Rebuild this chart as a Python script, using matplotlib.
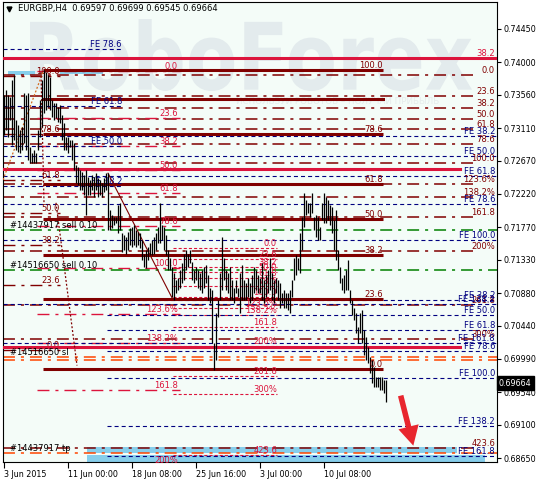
import matplotlib
matplotlib.use('Agg')
import matplotlib.pyplot as plt
from matplotlib.patches import Rectangle, PathPatch
from matplotlib.textpath import TextPath
from matplotlib.font_manager import FontProperties
from matplotlib.transforms import Affine2D, IdentityTransform, blended_transform_factory

plt.rcParams['lines.scale_dashes'] = False
plt.rcParams['font.family'] = 'DejaVu Sans'

# ---------------- data (EURGBP H4) ----------------
highs = [0.7356, 0.7362, 0.7356, 0.7353, 0.7376, 0.7383, 0.7322, 0.7315, 0.7308, 0.7312,
         0.7358, 0.7356, 0.7358, 0.7285, 0.7277, 0.7281, 0.7277, 0.7308, 0.7349, 0.7376,
         0.7390, 0.7387, 0.7383, 0.7380, 0.7349, 0.7345, 0.7345, 0.7340, 0.7342, 0.7329,
         0.7318, 0.7299, 0.7299, 0.7295, 0.7295, 0.7291, 0.7261, 0.7258, 0.7254, 0.7252,
         0.7248, 0.7254, 0.7245, 0.7241, 0.7248, 0.7245, 0.7250, 0.7244, 0.7241, 0.7237,
         0.7244, 0.7250, 0.7250, 0.7200, 0.7194, 0.7191, 0.7191, 0.7207, 0.7210, 0.7169,
         0.7166, 0.7164, 0.7171, 0.7176, 0.7177, 0.7180, 0.7173, 0.7171, 0.7169, 0.7160,
         0.7141, 0.7146, 0.7150, 0.7156, 0.7160, 0.7164, 0.7169, 0.7177, 0.7210, 0.7180,
         0.7177, 0.7166, 0.7146, 0.7136, 0.7123, 0.7115, 0.7106, 0.7109, 0.7119, 0.7128,
         0.7141, 0.7146, 0.7141, 0.7146, 0.7130, 0.7119, 0.7123, 0.7119, 0.7115, 0.7119,
         0.7123, 0.7126, 0.7112, 0.7095, 0.7092, 0.7020, 0.7061, 0.7079, 0.7115,
         0.7164, 0.7136, 0.7119, 0.7115, 0.7123, 0.7106, 0.7095, 0.7106, 0.7095, 0.7115,
         0.7126, 0.7106, 0.7102, 0.7109, 0.7102, 0.7112, 0.7123, 0.7119, 0.7112, 0.7109,
         0.7128, 0.7106, 0.7112, 0.7119, 0.7136, 0.7115, 0.7106, 0.7109, 0.7106, 0.7102,
         0.7088, 0.7092, 0.7088, 0.7088, 0.7092, 0.7106, 0.7136, 0.7139, 0.7136, 0.7169,
         0.7191, 0.7223, 0.7214, 0.7210, 0.7210, 0.7223, 0.7191, 0.7194, 0.7191, 0.7177,
         0.7210, 0.7223, 0.7218, 0.7214, 0.7207, 0.7204, 0.7187, 0.7200, 0.7146, 0.7123,
         0.7109, 0.7112, 0.7119, 0.7133, 0.7092, 0.7079, 0.7068, 0.7061, 0.7042, 0.7061,
         0.7065, 0.7038, 0.7029, 0.7015, 0.7002, 0.6998, 0.6988, 0.6975, 0.6975, 0.6975,
         0.6975, 0.6970, 0.6970]
lows = [0.7302, 0.7308, 0.7299, 0.7322, 0.7288, 0.7295, 0.7281, 0.7279, 0.7277, 0.7281,
        0.7291, 0.7281, 0.7268, 0.7264, 0.7264, 0.7264, 0.7264, 0.7281, 0.7299, 0.7312,
        0.7331, 0.7335, 0.7340, 0.7335, 0.7326, 0.7322, 0.7325, 0.7319, 0.7318, 0.7295,
        0.7281, 0.7281, 0.7277, 0.7285, 0.7268, 0.7254, 0.7237, 0.7234, 0.7227, 0.7227,
        0.7221, 0.7194, 0.7221, 0.7221, 0.7227, 0.7218, 0.7227, 0.7218, 0.7221, 0.7218,
        0.7225, 0.7227, 0.7173, 0.7173, 0.7176, 0.7180, 0.7183, 0.7169, 0.7173, 0.7143,
        0.7146, 0.7141, 0.7146, 0.7153, 0.7150, 0.7153, 0.7150, 0.7153, 0.7149, 0.7133,
        0.7123, 0.7122, 0.7133, 0.7139, 0.7139, 0.7141, 0.7146, 0.7156, 0.7156, 0.7160,
        0.7146, 0.7139, 0.7119, 0.7119, 0.7082, 0.7079, 0.7088, 0.7092, 0.7095, 0.7102,
        0.7106, 0.7119, 0.7123, 0.7128, 0.7106, 0.7102, 0.7106, 0.7095, 0.7092, 0.7088,
        0.7095, 0.7102, 0.7079, 0.7075, 0.7020, 0.6984, 0.6998, 0.7055, 0.7079,
        0.7092, 0.7106, 0.7092, 0.7088, 0.7079, 0.7079, 0.7075, 0.7088, 0.7082, 0.7061,
        0.7079, 0.7079, 0.7079, 0.7082, 0.7075, 0.7079, 0.7088, 0.7092, 0.7088, 0.7088,
        0.7079, 0.7075, 0.7082, 0.7088, 0.7092, 0.7079, 0.7075, 0.7088, 0.7079, 0.7068,
        0.7075, 0.7068, 0.7068, 0.7065, 0.7061, 0.7082, 0.7106, 0.7112, 0.7119, 0.7115,
        0.7146, 0.7177, 0.7194, 0.7196, 0.7191, 0.7196, 0.7173, 0.7164, 0.7160, 0.7160,
        0.7187, 0.7183, 0.7183, 0.7187, 0.7180, 0.7169, 0.7146, 0.7133, 0.7119, 0.7102,
        0.7092, 0.7088, 0.7092, 0.7092, 0.7075, 0.7058, 0.7052, 0.7034, 0.7020, 0.7034,
        0.7020, 0.7004, 0.6998, 0.6993, 0.6980, 0.6966, 0.6961, 0.6961, 0.6961, 0.6957,
        0.6957, 0.6953, 0.6941]

symbol = 'EURGBP,H4'
last_ohlc = ['0.69597', '0.69699', '0.69545', '0.69664']
last_close = 0.69664

date_labels = ['3 Jun 2015', '11 Jun 00:00', '18 Jun 08:00', '25 Jun 16:00', '3 Jul 00:00', '10 Jul 08:00']
date_bars = [0, 32, 64, 96, 128, 160]
price_ticks = [0.74450, 0.74000, 0.73560, 0.73110, 0.72670, 0.72220, 0.71770,
               0.71330, 0.70880, 0.70440, 0.69990, 0.69540, 0.69100, 0.68650]

retr_levels = [0, 23.6, 38.2, 50, 61.8, 78.6, 100]
ext_levels = [0, 23.6, 38.2, 50, 61.8, 78.6, 100, 123.6, 138.2, 161.8, 200, 261.8, 300, 423.6]
fe_levels = [38.2, 50, 61.8, 78.6, 100, 138.2, 161.8]
fe_top_levels = [38.2, 50, 61.8, 78.6]

# fibo objects: (price at 0 %, price at 100 %)
fibo_main = (0.6985, 0.7390)
fibo_left = (0.7011, 0.7382)
fibo_ext_right = (0.7383, 0.7264)
fibo_ext_mid = (0.7149, 0.7083)
fibo_ext_left = (0.7388, 0.7122)
fe_top = (0.7058, 0.7516)
fe_upper = (0.7386, 0.7160)
fe_lower = (0.7143, 0.6973)

red_levels = [0.7406, 0.7256, 0.7015]
resist_level = 0.7350
order_prices = [0.7173, 0.7119]
order_names = ['#14437917 sell 0.10', '#14516650 sell 0.10']
sl_prices = [0.7002, 0.6998]
tp_price = 0.6872

MAROON = '#800000'
CRIMSON = '#DC143C'
NAVY = '#000080'
GREEN = '#008000'
ORANGE = '#FF4500'
SKY = '#87CEEB'
BG = '#F4FCF8'
FS = 6.0

DASHDOT = (0, (8.6, 4.3, 2.2, 4.3))
SHORT = (0, (2.9, 2.2))
TINY = (0, (2.2, 1.5))


def lvl_price(anchor, lvl):
    p0, p100 = anchor
    return p0 + (p100 - p0) * lvl / 100.0


def ext_text(lvl):
    special = {123.6: '123.6%', 138.2: '138.2%', 200: '200%', 300: '300%'}
    return special.get(lvl, '%.1f' % lvl)


def draw_levels(ax, anchor, levels, x0, x1, color, lw, ls, lab_x, lab_color, fmt, zorder=2):
    for lvl in levels:
        p = lvl_price(anchor, lvl)
        ax.plot([x0, x1], [p, p], color=color, lw=lw, linestyle=ls, zorder=zorder,
                solid_capstyle='butt')
        ax.text(lab_x, p, fmt(lvl), color=lab_color, fontsize=FS, ha='right', va='bottom',
                zorder=zorder + 1)


fig = plt.figure(figsize=(5.39, 4.79), dpi=100)
fig.patch.set_facecolor('white')
ax = fig.add_axes([3 / 539, 17 / 479, 494 / 539, 460 / 479])
ax.set_facecolor(BG)

# watermark
fp = FontProperties(family='DejaVu Sans', weight='bold')
tp = TextPath((0, 0), 'RoboForex', size=1, prop=fp)
ext = tp.get_extents()
tr = Affine2D().translate(-ext.x0, -ext.y0).scale(442 / ext.width, 72 / ext.height).translate(30, 388)
ax.add_artist(PathPatch(tr.transform_path(tp), fc='#E3EBED', ec='none',
                        transform=IdentityTransform(), zorder=0.5))
ax.text(236 / 539, 1 - 101 / 479, 'ИСПОЛЬЗУЙ РОБОТОВ – ПОЛУЧАЙ ПРИБЫЛЬ', color='#E6ECEC',
        fontsize=6.3, va='center', ha='left', zorder=0.6, transform=fig.transFigure)

# price bars
xs = list(range(len(highs)))
ax.vlines(xs, lows, highs, color='black', lw=0.9, zorder=4)

# blue target boxes
boxes = [(41.5, 226.5, 0.6872, 0.6880), (41.5, 240.5, 0.6850, 0.6869),
         (2.0, 15.5, 0.7383, 0.7388), (28.0, 49.5, 0.7384, 0.7387)]
for bx0, bx1, by0, by1 in boxes:
    ax.add_patch(Rectangle((bx0, by0), bx1 - bx0, by1 - by0, fc=SKY, ec='none', zorder=1.5))

# fibonacci retracements
draw_levels(ax, fibo_main, retr_levels, 19.5, 189.5, MAROON, 2.2, '-', 189.5, MAROON,
            lambda l: '%.1f' % l, zorder=3)
ax.plot([19.5, 189.5], [resist_level, resist_level], color=MAROON, lw=2.2, zorder=3)
draw_levels(ax, fibo_left, retr_levels, -0.5, 28, MAROON, 1.0, DASHDOT, 28, MAROON,
            lambda l: '%.1f' % l)
draw_levels(ax, fibo_ext_right, ext_levels, -0.5, 236, MAROON, 1.1, DASHDOT, 245.5, MAROON, ext_text)
draw_levels(ax, fibo_ext_mid, ext_levels, 84.5, 136.5, CRIMSON, 0.8, TINY, 136.5, CRIMSON, ext_text)
draw_levels(ax, fibo_ext_left, ext_levels[:11], 16.5, 88, CRIMSON, 1.0, DASHDOT, 87, CRIMSON, ext_text)

# fibonacci expansions
fe_fmt = lambda l: 'FE %.1f' % l
draw_levels(ax, fe_top, fe_top_levels, -0.5, 59, NAVY, 0.8, SHORT, 59, NAVY, fe_fmt)
draw_levels(ax, fe_upper, fe_levels, -0.5, 246.5, NAVY, 0.8, SHORT, 245.5, NAVY, fe_fmt)
draw_levels(ax, fe_lower, fe_levels, 51.5, 246.5, NAVY, 0.8, SHORT, 245.5, NAVY, fe_fmt)

# solid red levels
for p, x1 in zip(red_levels, [246.5, 228, 228]):
    ax.plot([-0.5, x1], [p, p], color=CRIMSON, lw=2.2, zorder=3)
ax.text(245.5, red_levels[0], '38.2', color=CRIMSON, fontsize=FS, ha='right', va='bottom', zorder=5)

# orders
for p, name in zip(order_prices, order_names):
    ax.plot([-0.5, 246.5], [p, p], color=GREEN, lw=1.1, linestyle=DASHDOT, zorder=2)
    ax.text(3, p, name, color='black', fontsize=FS, ha='left', va='bottom', zorder=5)
for p in sl_prices:
    ax.plot([-0.5, 246.5], [p, p], color=ORANGE, lw=1.1, linestyle=DASHDOT, zorder=2)
ax.text(3, sl_prices[0], '#14516650 sl', color='black', fontsize=FS, ha='left', va='bottom', zorder=5)
ax.plot([-0.5, 246.5], [tp_price, tp_price], color=ORANGE, lw=1.1, linestyle=DASHDOT, zorder=2)
ax.text(3, tp_price, '#14437917 tp', color='black', fontsize=FS, ha='left', va='bottom', zorder=5)

# trend lines
ax.plot([52, 84.5], [0.7250, 0.7079], color=MAROON, lw=0.8, zorder=3)
ax.plot([-0.5, 19.5], [0.7241, 0.7387], color='#D2691E', lw=0.9, linestyle=(0, (1.4, 1.4)), zorder=3)
ax.plot([18.5, 20], [0.7387, 0.7210], color=MAROON, lw=0.9, linestyle=(0, (1.4, 1.4)), zorder=3)
ax.plot([26, 36.5], [0.7210, 0.6990], color=MAROON, lw=0.9, linestyle=(0, (1.4, 1.4)), zorder=3)

# arrow to the target
ax.annotate('', xy=(205, 0.6878), xytext=(198, 0.6953),
            arrowprops=dict(arrowstyle='simple,head_width=1.5,head_length=1.4,tail_width=0.4',
                            fc='#E8262E', ec='none', mutation_scale=10), zorder=6)

# axes cosmetics
ax.set_xlim(-0.5, 246.5)
ax.set_ylim(0.68596, 0.74815)
ax.yaxis.tick_right()
ax.set_yticks(price_ticks)
ax.set_yticklabels(['%.5f' % p for p in price_ticks])
ax.set_xticks(date_bars)
ax.set_xticklabels(date_labels, ha='left')
ax.tick_params(axis='y', length=3, width=0.8, labelsize=5.8, pad=2)
ax.tick_params(axis='x', length=4, width=0.8, labelsize=5.8, pad=2)
for sp in ax.spines.values():
    sp.set_linewidth(0.8)

ax.text(1.004, last_close, '0.69664', transform=blended_transform_factory(ax.transAxes, ax.transData),
        color='white', fontsize=5.8, ha='left', va='center', clip_on=False, zorder=7,
        bbox=dict(fc='black', ec='black', pad=1.6))

ax.text(0.031, 0.985, symbol + '  ' + ' '.join(last_ohlc), transform=ax.transAxes,
        fontsize=6.0, ha='left', va='center', color='black', zorder=7)
ax.plot([0.012], [0.985], marker='v', ms=3.5, color='black', transform=ax.transAxes, zorder=7)

fig.savefig('out.png', dpi=100, facecolor='white')
